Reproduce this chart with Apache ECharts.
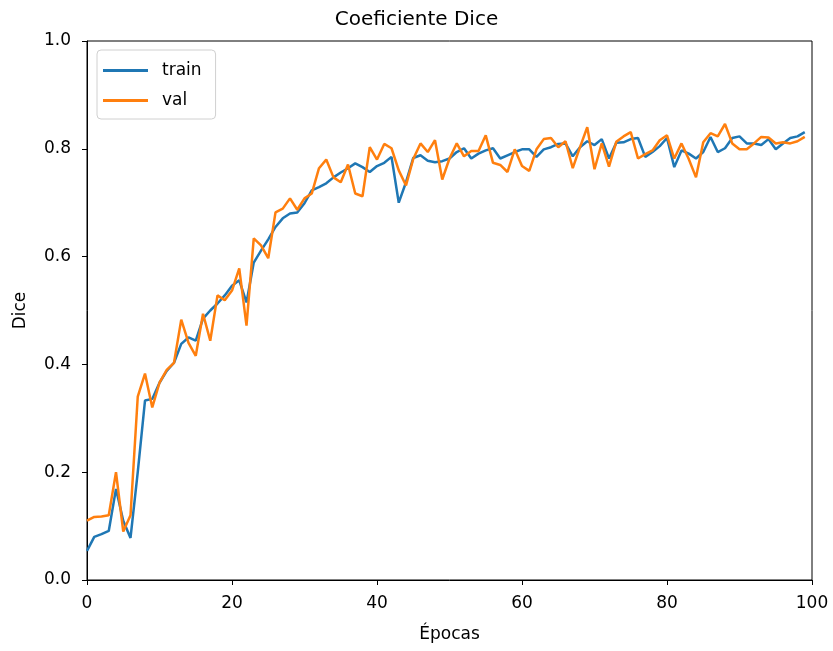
<!DOCTYPE html>
<html>
<head>
<meta charset="utf-8">
<script src="https://cdn.jsdelivr.net/npm/echarts@6/dist/echarts.min.js"></script>
<style>html,body{margin:0;padding:0;background:#fff}#c{width:833px;height:651px}</style>
</head>
<body>
<div id="c"></div>
<script>
const epochs = Array.from({length: 100}, (_, i) => i);
const train = [
0.054,0.080,0.085,0.091,0.169,0.110,0.078,0.200,0.333,0.336,
0.366,0.388,0.403,0.438,0.450,0.444,0.485,0.500,0.513,0.528,
0.546,0.556,0.515,0.589,0.611,0.632,0.655,0.671,0.680,0.682,
0.699,0.723,0.729,0.736,0.747,0.756,0.764,0.773,0.766,0.757,
0.768,0.774,0.785,0.700,0.738,0.783,0.788,0.778,0.775,0.777,
0.782,0.794,0.801,0.782,0.791,0.797,0.801,0.782,0.788,0.794,
0.799,0.799,0.785,0.799,0.803,0.809,0.810,0.786,0.803,0.814,
0.807,0.818,0.782,0.811,0.812,0.818,0.820,0.785,0.794,0.805,
0.820,0.766,0.797,0.791,0.782,0.794,0.822,0.794,0.801,0.820,
0.823,0.810,0.810,0.807,0.818,0.799,0.810,0.820,0.823,0.831
];
const val = [
0.110,0.117,0.118,0.120,0.200,0.090,0.120,0.340,0.383,0.320,
0.366,0.390,0.403,0.483,0.440,0.416,0.494,0.444,0.528,0.519,
0.537,0.578,0.472,0.634,0.621,0.597,0.682,0.689,0.708,0.687,
0.708,0.717,0.764,0.780,0.747,0.738,0.771,0.717,0.712,0.803,
0.780,0.809,0.801,0.760,0.732,0.781,0.810,0.794,0.816,0.743,
0.782,0.810,0.786,0.796,0.796,0.825,0.774,0.770,0.757,0.799,
0.768,0.759,0.799,0.818,0.820,0.803,0.814,0.764,0.803,0.840,
0.762,0.810,0.767,0.813,0.823,0.831,0.782,0.790,0.797,0.816,
0.825,0.782,0.810,0.781,0.747,0.812,0.829,0.823,0.846,0.810,
0.799,0.799,0.810,0.822,0.821,0.810,0.812,0.810,0.814,0.822
];
const xTicks = [0, 20, 40, 60, 80, 100];
const yTicks = [0.0, 0.2, 0.4, 0.6, 0.8, 1.0];

const font = 'DejaVu Sans';
const chart = echarts.init(document.getElementById('c'), null, {renderer: 'canvas'});
const axisCommon = {
  axisLine: {show: true, onZero: false, lineStyle: {color: '#000', width: 1}},
  axisTick: {show: true, length: 5, lineStyle: {color: '#000'}},
  splitLine: {show: false},
  nameLocation: 'middle',
  nameTextStyle: {fontFamily: font, fontSize: 17, color: '#000'}
};
chart.setOption({
  animation: false,
  backgroundColor: '#fff',
  title: {
    text: 'Coeficiente Dice', left: 'center', top: 5,
    textStyle: {fontFamily: font, fontSize: 20, fontWeight: 'normal', color: '#000'}
  },
  grid: {left: 87, right: 21, top: 41, bottom: 71, show: true, borderColor: '#000', borderWidth: 1, containLabel: false},
  legend: {
    orient: 'vertical', left: 97, top: 50,
    backgroundColor: '#fff', borderColor: '#d0d0d0', borderWidth: 1, borderRadius: 4,
    padding: [12, 14, 10, 6],
    itemWidth: 45, itemHeight: 3, itemGap: 13,
    icon: 'rect',
    textStyle: {fontFamily: font, fontSize: 17, color: '#000', padding: [0, 0, 0, 9]},
    data: ['train', 'val']
  },
  xAxis: Object.assign({}, axisCommon, {
    type: 'value', min: 0, max: 100, interval: 20,
    name: 'Épocas', nameGap: 46,
    axisLabel: {fontFamily: font, fontSize: 17, color: '#000', margin: 15,
      formatter: v => xTicks.includes(v) ? String(v) : ''}
  }),
  yAxis: Object.assign({}, axisCommon, {
    type: 'value', min: 0, max: 1, interval: 0.2,
    name: 'Dice', nameGap: 58,
    axisLabel: {fontFamily: font, fontSize: 17, color: '#000', margin: 16,
      formatter: v => yTicks.some(t => Math.abs(t - v) < 1e-9) ? v.toFixed(1) : ''}
  }),
  series: [
    {name: 'train', type: 'line', showSymbol: false, symbol: 'none',
     data: epochs.map((e, i) => [e, train[i]]),
     lineStyle: {color: '#1f77b4', width: 2.5}, itemStyle: {color: '#1f77b4'}},
    {name: 'val', type: 'line', showSymbol: false, symbol: 'none',
     data: epochs.map((e, i) => [e, val[i]]),
     lineStyle: {color: '#ff7f0e', width: 2.5}, itemStyle: {color: '#ff7f0e'}}
  ]
});
</script>
</body>
</html>
